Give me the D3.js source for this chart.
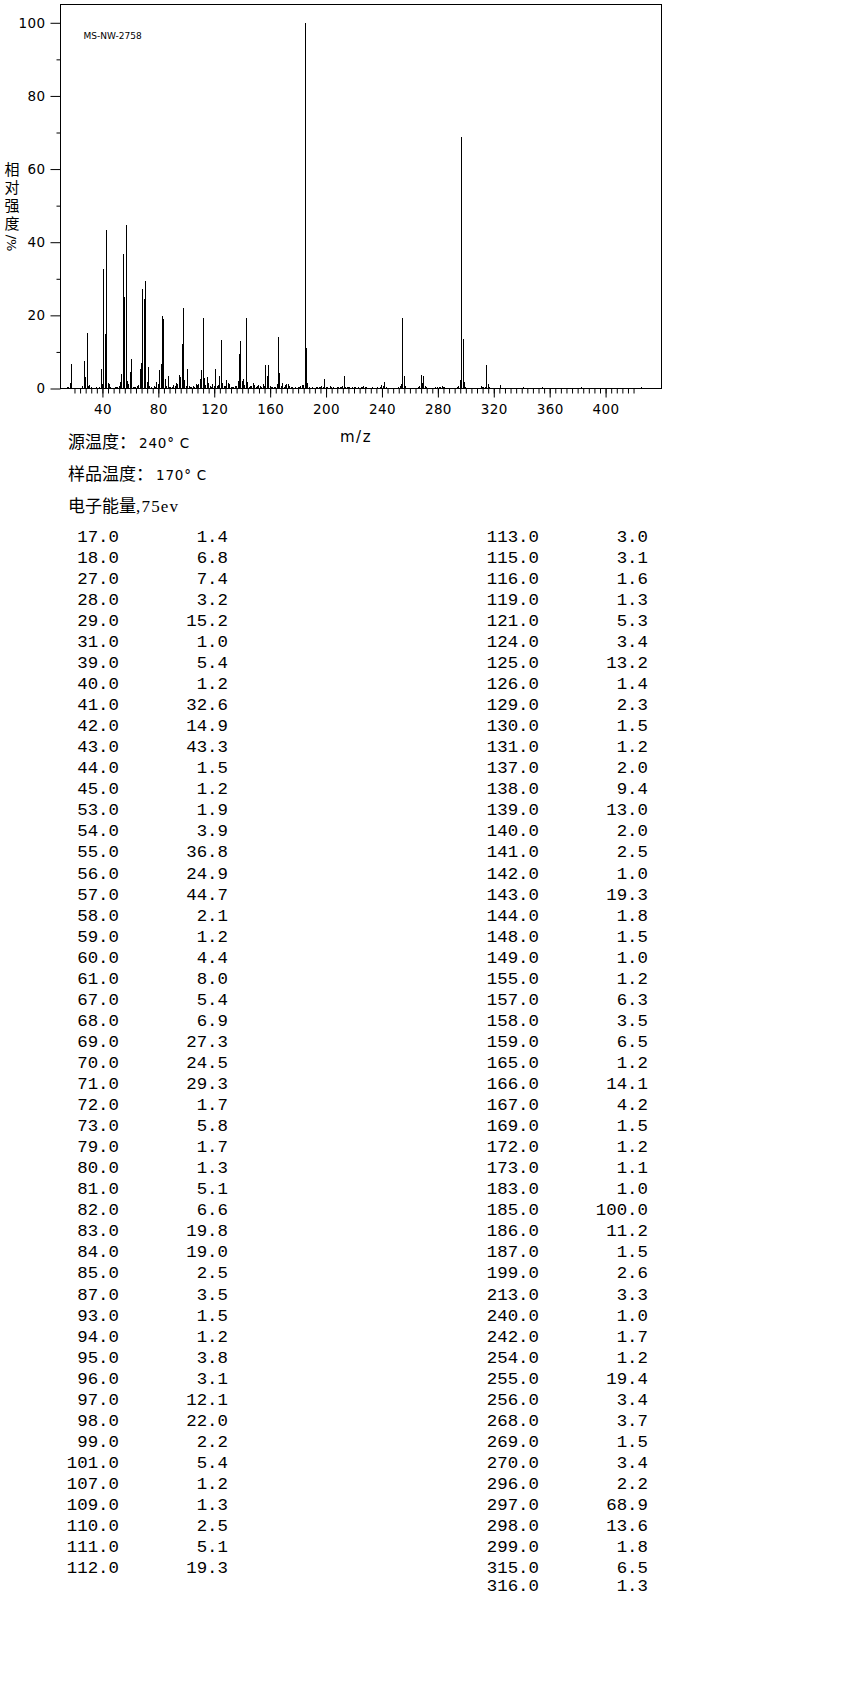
<!DOCTYPE html>
<html>
<head>
<meta charset="utf-8">
<script src="https://cdnjs.cloudflare.com/ajax/libs/d3/7.8.5/d3.min.js"></script>
<style>
body { margin: 0; background: #fff; }
.axis text { font-family: "DejaVu Sans", sans-serif; font-size: 13.5px; fill: #000; }
.axis line { stroke: #000; }
.tbl { font-family: "Liberation Mono", monospace; font-size: 17.4px; fill: #000; }
</style>
</head>
<body>
<svg width="850" height="1701"></svg>
<script>
// peaks listed in the table (m/z, relative intensity %)
var mz = [17,18,27,28,29,31,39,40,41,42,43,44,45,53,54,55,56,57,58,59,60,61,67,68,69,70,71,72,73,79,
          80,81,82,83,84,85,87,93,94,95,96,97,98,99,101,107,109,110,111,112,
          113,115,116,119,121,124,125,126,129,130,131,137,138,139,140,141,142,143,144,148,149,155,157,158,159,
          165,166,167,169,172,173,183,185,186,187,199,213,240,242,254,255,256,268,269,270,296,297,298,299,315,316];
var intensity = [1.4,6.8,7.4,3.2,15.2,1.0,5.4,1.2,32.6,14.9,43.3,1.5,1.2,1.9,3.9,36.8,24.9,44.7,2.1,1.2,4.4,8.0,5.4,6.9,27.3,24.5,29.3,1.7,5.8,1.7,
          1.3,5.1,6.6,19.8,19.0,2.5,3.5,1.5,1.2,3.8,3.1,12.1,22.0,2.2,5.4,1.2,1.3,2.5,5.1,19.3,
          3.0,3.1,1.6,1.3,5.3,3.4,13.2,1.4,2.3,1.5,1.2,2.0,9.4,13.0,2.0,2.5,1.0,19.3,1.8,1.5,1.0,1.2,6.3,3.5,6.5,
          1.2,14.1,4.2,1.5,1.2,1.1,1.0,100.0,11.2,1.5,2.6,3.3,1.0,1.7,1.2,19.4,3.4,3.7,1.5,3.4,2.2,68.9,13.6,1.8,6.5,1.3];

// small peaks (< 1 %) only drawn in the spectrum
var minorMz = [15,16,26,30,32,36,38,46,49,50,51,52,62,63,64,65,66,74,75,77,78,86,88,89,90,91,92,100,102,103,104,105,106,108,
          114,117,118,120,122,123,127,128,132,133,134,135,136,145,146,147,150,151,152,153,154,156,160,161,162,163,164,
          168,170,171,174,175,176,178,180,181,182,184,188,190,193,194,195,196,197,198,200,201,203,204,205,208,209,210,211,212,
          214,215,216,217,219,220,221,223,225,226,227,228,229,233,237,239,241,243,252,253,257,266,267,271,272,
          278,280,281,282,283,284,285,294,295,300,311,312,313,314,317,325,341,352,355,383,426];
var minorVal = [0.4,0.5,0.8,0.7,0.4,0.3,0.5,0.3,0.3,0.4,0.4,0.6,0.5,0.4,0.3,0.6,0.9,0.6,0.4,0.8,0.5,0.6,0.4,0.3,0.4,0.9,0.6,0.8,0.6,0.5,0.4,0.7,0.4,0.9,
          0.9,0.6,0.5,0.6,0.7,0.9,0.8,0.6,0.4,0.5,0.3,0.6,0.8,0.4,0.6,0.8,0.5,0.8,0.9,0.6,0.4,0.6,0.6,0.4,0.3,0.4,0.5,
          0.7,0.5,0.9,0.6,0.3,0.3,0.3,0.4,0.5,0.7,0.9,0.3,0.3,0.4,0.5,0.5,0.3,0.6,0.4,0.5,0.4,0.8,0.4,0.3,0.3,0.4,0.5,0.5,0.6,
          0.5,0.3,0.4,0.3,0.4,0.5,0.4,0.3,0.4,0.5,0.6,0.4,0.3,0.3,0.4,0.4,0.6,0.4,0.4,0.8,0.7,0.4,0.6,0.8,0.3,
          0.4,0.4,0.3,0.5,0.6,0.4,0.3,0.5,0.8,0.5,0.6,0.4,0.4,0.3,0.4,0.9,0.3,0.2,0.3,0.3,0.5];

var xMajor = d3.range(40, 401, 40);
var xMinor = d3.range(20, 421, 4);
var yMajor = [0, 20, 40, 60, 80, 100];
var yMinor = [10, 30, 50, 70, 90];

var sampleId = "MS-NW-2758";
var infoLines = [["源温度：", "240° C"], ["样品温度：", "170° C"], ["电子能量", ",75ev"]];
var yLabelChars = ["相", "对", "强", "度"];

var svg = d3.select("svg");
var margin = {top: 4.5, left: 60.5, right: 188.5, bottom: 1312.5};
var width = 850 - margin.left - margin.right,
    height = 1701 - margin.top - margin.bottom;

var x = d3.scaleLinear().domain([10, 440]).range([0, width]);
var y = d3.scaleLinear().domain([0, 105]).range([height, 0]);

var g = svg.append("g")
    .attr("transform", "translate(" + margin.left + "," + margin.top + ")");

// frame
g.append("rect")
    .attr("width", width)
    .attr("height", height)
    .attr("fill", "none")
    .attr("stroke", "#000")
    .attr("stroke-width", 1);

// x axis: minor + major ticks
g.append("g")
    .attr("class", "axis")
    .attr("transform", "translate(0," + height + ")")
    .call(d3.axisBottom(x).tickValues(xMinor).tickSize(5).tickFormat(""))
    .call(function(a) { a.select(".domain").remove(); });

g.append("g")
    .attr("class", "axis")
    .attr("transform", "translate(0," + height + ")")
    .call(d3.axisBottom(x).tickValues(xMajor).tickSize(9).tickPadding(7).tickFormat(d3.format("d")))
    .call(function(a) { a.select(".domain").remove(); a.selectAll("text").attr("letter-spacing", "0.4"); });

// y axis
g.append("g")
    .attr("class", "axis")
    .call(d3.axisLeft(y).tickValues(yMinor).tickSize(4).tickFormat(""))
    .call(function(a) { a.select(".domain").remove(); });

g.append("g")
    .attr("class", "axis")
    .call(d3.axisLeft(y).tickValues(yMajor).tickSize(10).tickPadding(5).tickFormat(d3.format("d")))
    .call(function(a) { a.select(".domain").remove(); a.selectAll("text").attr("letter-spacing", "0.4"); });

// peaks
var peaks = mz.map(function(d, i) { return {mz: d, v: intensity[i]}; })
    .concat(minorMz.map(function(d, i) { return {mz: d, v: minorVal[i]}; }));

g.selectAll(".peak")
    .data(peaks)
    .enter().append("line")
    .attr("class", "peak")
    .attr("x1", function(d) { return x(d.mz); })
    .attr("x2", function(d) { return x(d.mz); })
    .attr("y1", y(0))
    .attr("y2", function(d) { return y(d.v); })
    .attr("stroke", "#000")
    .attr("stroke-width", 1)
    .attr("shape-rendering", "crispEdges");

g.append("text")
    .attr("x", 23)
    .attr("y", 34.5)
    .attr("font-family", "DejaVu Sans, sans-serif")
    .attr("font-size", "9px")
    .text(sampleId);

// y label, written vertically
var yl = svg.append("g").attr("font-size", "15px");
yl.selectAll(".ych")
    .data(yLabelChars)
    .enter().append("text")
    .attr("class", "ych")
    .attr("x", 12)
    .attr("y", function(d, i) { return 170 + i * 18; })
    .attr("dy", "0.36em")
    .attr("text-anchor", "middle")
    .attr("font-family", "Noto Sans CJK SC, sans-serif")
    .text(function(d) { return d; });
yl.append("text")
    .attr("transform", "translate(12,243) rotate(90)")
    .attr("text-anchor", "middle")
    .attr("dy", "0.36em")
    .attr("font-family", "DejaVu Sans, sans-serif")
    .attr("font-size", "13px")
    .text("/%");

// x label
svg.append("text")
    .attr("x", 356)
    .attr("y", 442)
    .attr("text-anchor", "middle")
    .attr("font-family", "DejaVu Sans, sans-serif")
    .attr("font-size", "15px")
    .attr("letter-spacing", "1.5")
    .text("m/z");

// info lines
var info = svg.selectAll(".info")
    .data(infoLines)
    .enter().append("text")
    .attr("class", "info")
    .attr("x", 68)
    .attr("y", function(d, i) { return 448 + i * 32; })
    .attr("font-size", "17px");
info.append("tspan")
    .attr("font-family", "Noto Sans CJK SC, sans-serif")
    .text(function(d) { return d[0]; });
info.append("tspan")
    .attr("font-family", function(d, i) { return i == 2 ? "Liberation Serif, serif" : "DejaVu Sans, sans-serif"; })
    .attr("font-size", function(d, i) { return i == 2 ? "17px" : "13.5px"; })
    .attr("letter-spacing", function(d, i) { return i == 2 ? "1.2" : "0.8"; })
    .attr("dx", function(d, i) { return i == 2 ? 0 : 3; })
    .text(function(d) { return d[1]; });

// peak table
var rowH = 21.05, rowTop = 541.7, perCol = 50;
function rowY(i) {
    var r = i % perCol, c = Math.floor(i / perCol);
    if (c == 2) return rowTop + (perCol - 1) * rowH + 17.5;
    return rowTop + r * rowH;
}
var cols = [{m: 119, v: 228}, {m: 539, v: 648}, {m: 539, v: 648}];

var rows = svg.selectAll(".row")
    .data(mz)
    .enter().append("g")
    .attr("class", "row");
rows.append("text")
    .attr("class", "tbl")
    .attr("text-anchor", "end")
    .attr("x", function(d, i) { return cols[Math.floor(i / perCol)].m; })
    .attr("y", function(d, i) { return rowY(i); })
    .text(function(d) { return d.toFixed(1); });
rows.append("text")
    .attr("class", "tbl")
    .attr("text-anchor", "end")
    .attr("x", function(d, i) { return cols[Math.floor(i / perCol)].v; })
    .attr("y", function(d, i) { return rowY(i); })
    .text(function(d, i) { return intensity[i].toFixed(1); });
</script>
</body>
</html>
